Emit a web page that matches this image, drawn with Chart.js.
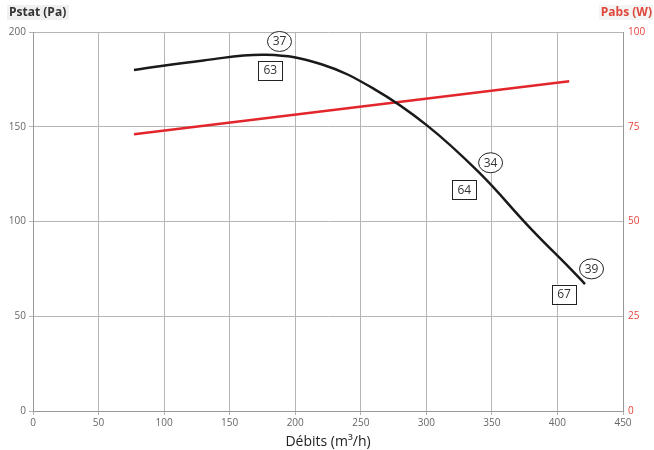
<!DOCTYPE html>
<html>
<head>
<meta charset="utf-8">
<script src="https://cdn.jsdelivr.net/npm/chart.js@4.4.1/dist/chart.umd.min.js"></script>
<style>
  html, body { margin: 0; padding: 0; background: #fff; }
  #wrap { width: 654px; height: 450px; position: relative; }
</style>
</head>
<body>
<div id="wrap"><canvas id="fanChart"></canvas></div>
<script>
// pressure curve (Pa) vs flow (m3/h)
const flowP = [77, 130, 178, 220, 260, 300, 340, 380, 410, 421];
const pstat = [180, 185, 188, 183, 170, 151, 126, 96, 75, 67];

// absorbed power line (W)
const flowW = [77, 409];
const pabs = [73, 87];

// marker labels: circles and boxes, placed in data units
const circleLabels = ['37', '34', '39'];
const circleX = [188, 349, 426];
const circleY = [195, 131, 75];
const boxLabels = ['63', '64', '67'];
const boxX = [181, 329, 405];
const boxY = [180, 117, 62];

const xTicks = [0, 50, 100, 150, 200, 250, 300, 350, 400, 450];

const FONT = '"Open Sans", "Liberation Sans", sans-serif';

const labelPlugin = {
    id: 'labels',
    afterDatasetsDraw(chart) {
        const { ctx, scales: { x, y } } = chart;
        ctx.save();
        ctx.font = '12px ' + FONT;
        ctx.textAlign = 'center';
        ctx.textBaseline = 'middle';
        ctx.lineWidth = 1;
        ctx.strokeStyle = '#222';
        circleLabels.forEach((t, i) => {
            const px = x.getPixelForValue(circleX[i]);
            const py = y.getPixelForValue(circleY[i]);
            ctx.fillStyle = '#fff';
            ctx.beginPath();
            ctx.ellipse(px, py, 12, 10, 0, 0, Math.PI * 2);
            ctx.fill();
            ctx.stroke();
            ctx.fillStyle = '#333';
            ctx.fillText(t, px, py + 0.5);
        });
        boxLabels.forEach((t, i) => {
            const px = x.getPixelForValue(boxX[i]);
            const py = y.getPixelForValue(boxY[i]);
            ctx.fillStyle = '#fff';
            ctx.fillRect(px - 12, py - 9, 24, 19);
            ctx.strokeRect(Math.round(px - 12) + 0.5, Math.round(py - 9) + 0.5, 24, 19);
            ctx.fillStyle = '#333';
            ctx.fillText(t, px, py + 1);
        });

        // axis titles on top
        ctx.font = 'bold 12px ' + FONT;
        ctx.textBaseline = 'middle';
        ctx.textAlign = 'left';
        ctx.fillStyle = '#f0f0f0';
        ctx.fillRect(7, 5, 62, 15);
        ctx.fillStyle = '#333';
        ctx.fillText('Pstat (Pa)', 9, 13);
        ctx.textAlign = 'right';
        ctx.fillStyle = '#f4f4f4';
        ctx.fillRect(599, 5, 54, 15);
        ctx.fillStyle = '#e0463a';
        ctx.fillText('Pabs (W)', 652, 13);
        ctx.restore();
    }
};

function initChart() {
    const ctx = document.getElementById('fanChart');
    new Chart(ctx, {
        type: 'scatter',
        data: {
            datasets: [{
                data: flowP.map((v, i) => ({ x: v, y: pstat[i] })),
                showLine: true,
                borderColor: '#1a1a1a',
                borderWidth: 2.5,
                pointRadius: 0,
                tension: 0.4,
                yAxisID: 'y'
            }, {
                data: flowW.map((v, i) => ({ x: v, y: pabs[i] })),
                showLine: true,
                borderColor: '#e3262b',
                borderWidth: 2.5,
                pointRadius: 0,
                yAxisID: 'y2'
            }]
        },
        options: {
            responsive: true,
            maintainAspectRatio: false,
            animation: false,
            layout: { padding: { top: 32, left: 0, right: 0, bottom: 0 } },
            plugins: { legend: { display: false }, tooltip: { enabled: false } },
            scales: {
                x: {
                    type: 'linear', min: 0, max: 450,
                    afterBuildTicks: s => { s.ticks = xTicks.map(v => ({ value: v })); },
                    afterFit: s => { s.height = 39; },
                    grid: { color: '#b5b5b5', tickLength: 4, lineWidth: 1 },
                    border: { color: '#999' },
                    ticks: { color: '#666', font: { family: FONT, size: 10 }, padding: 2, maxRotation: 0 },
                    title: { display: true, text: 'Débits (m³/h)', color: '#222', font: { family: FONT, size: 14 }, padding: { top: 0, bottom: 0 } }
                },
                y: {
                    position: 'left', min: 0, max: 200,
                    afterFit: s => { s.width = 33; },
                    ticks: { stepSize: 50, color: '#666', font: { family: FONT, size: 10 }, padding: 3 },
                    grid: { color: '#b5b5b5', tickLength: 4 },
                    border: { color: '#999' }
                },
                y2: {
                    position: 'right', min: 0, max: 100,
                    afterFit: s => { s.width = 31; },
                    ticks: { stepSize: 25, color: '#e8413a', font: { family: FONT, size: 10 }, padding: 5 },
                    grid: { drawOnChartArea: false, tickLength: 0 },
                    border: { color: '#999' }
                }
            }
        },
        plugins: [labelPlugin]
    });
}

document.addEventListener('DOMContentLoaded', initChart);
</script>
</body>
</html>
